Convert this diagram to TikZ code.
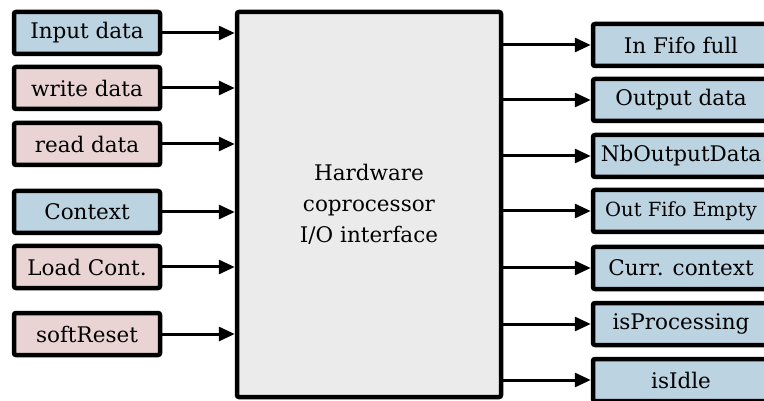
\documentclass[tikz,border=0pt]{standalone}
\usepackage{fontspec}
\setmainfont{DejaVu Serif}
\usetikzlibrary{arrows.meta}

\definecolor{inblue}{RGB}{188,211,226}
\definecolor{inpink}{RGB}{233,212,211}
\definecolor{coregray}{RGB}{235,235,235}

\begin{document}
\begin{tikzpicture}[
    x=1pt, y=-1pt,
    font=\fontsize{21.5}{31}\selectfont,
    sig/.style={draw, line width=4.5pt, rounded corners=2pt, minimum height=42pt, align=center, inner sep=0pt},
    insig/.style={sig, minimum width=146pt},
    outsig/.style={sig, minimum width=176pt, fill=inblue},
    core/.style={draw, line width=4.5pt, rounded corners=2pt, fill=coregray, minimum width=264pt, minimum height=385pt, align=center},
    wire/.style={-{Triangle[length=16pt,width=14pt]}, line width=3pt}
]
\useasboundingbox (0,0) rectangle (764,401);
\clip (0,0) rectangle (764,401);

% Coprocessor interface
\node[core] (hw) at (369,204.5) {Hardware\\coprocessor\\I/O interface};

% Inputs
\node[insig, fill=inblue] (indata) at (87,33) {Input data};
\node[insig, fill=inpink] (wrdata) at (87,88) {write data};
\node[insig, fill=inpink] (rddata) at (87,144) {read data};
\node[insig, fill=inblue] (ctx) at (87,212) {Context};
\node[insig, fill=inpink] (ldctx) at (87,267) {Load Cont.};
\node[insig, fill=inpink] (reset) at (87,334) {softReset};

% Outputs
\node[outsig] (infull) at (681,45) {In Fifo full};
\node[outsig] (outdata) at (681,100) {Output data};
\node[outsig] (nbout) at (681,156) {NbOutputData};
\node[outsig, font=\fontsize{19.5}{31}\selectfont] (outempty) at (681,211) {Out Fifo Empty};
\node[outsig] (currctx) at (681,268) {Curr. context};
\node[outsig] (busy) at (681,324) {isProcessing};
\node[outsig] (idle) at (681,380) {isIdle};

% Input wires
\foreach \s in {indata,wrdata,rddata,ctx,ldctx,reset}
    \draw[wire] (\s.east) -- (hw.west |- \s.east);

% Output wires
\foreach \s in {infull,outdata,nbout,outempty,currctx,busy,idle}
    \draw[wire] (hw.east |- \s.west) -- (\s.west);

\end{tikzpicture}
\end{document}
